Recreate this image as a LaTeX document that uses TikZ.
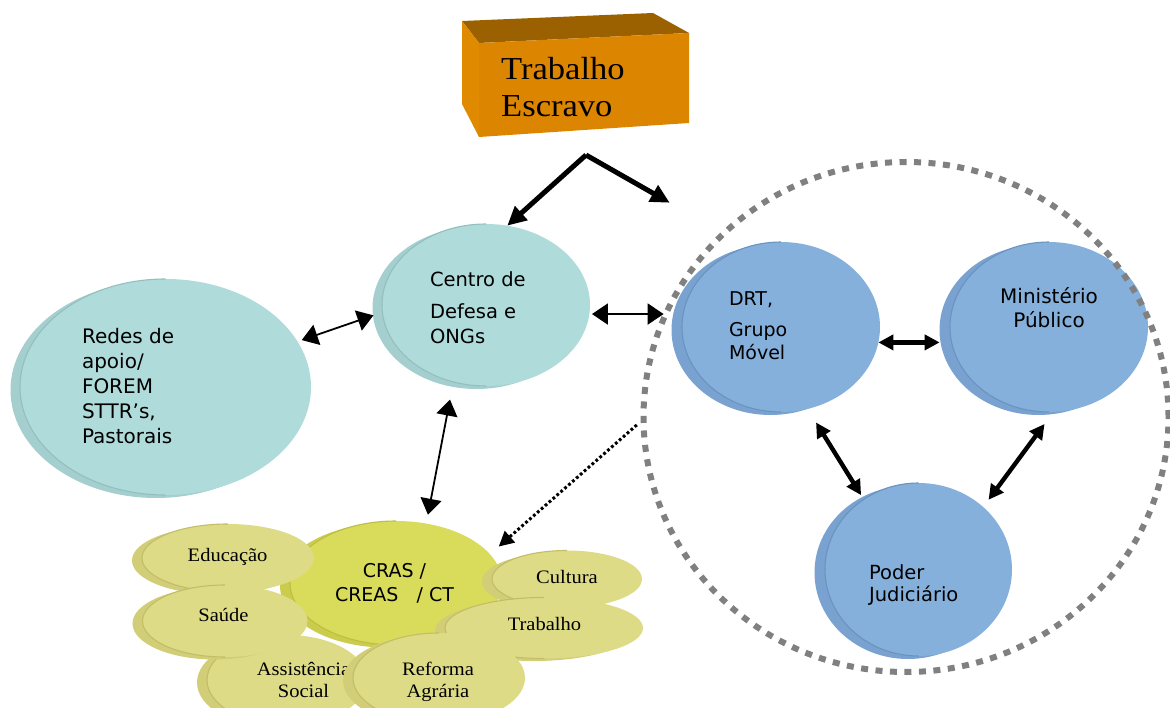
\documentclass[tikz,border=0pt]{standalone}
\usepackage{fontspec}
\setmainfont{Liberation Serif}[FakeStretch=1.08]
\newfontfamily\sansf{DejaVu Sans}
\usetikzlibrary{shapes.geometric,shadows,arrows.meta}
\definecolor{cyanF}{HTML}{AFDBDA}
\definecolor{cyanB}{HTML}{A5CFCF}
\definecolor{cyanL}{HTML}{93BFBF}
\definecolor{blueF}{HTML}{85B0DB}
\definecolor{blueB}{HTML}{7AA2D0}
\definecolor{blueL}{HTML}{6B93C0}
\definecolor{ylwF}{HTML}{DEDB87}
\definecolor{ylwB}{HTML}{D2CE78}
\definecolor{ylwL}{HTML}{C2BE68}
\definecolor{crasF}{HTML}{D9DB5A}
\definecolor{crasB}{HTML}{CBCC4B}
\definecolor{crasL}{HTML}{BDBE42}
\definecolor{boxF}{HTML}{DC8500}
\definecolor{boxT}{HTML}{9B6100}
\definecolor{boxS}{HTML}{E08A00}
\definecolor{ringG}{HTML}{808080}
\newcommand\lstack[1]{\vtop{\halign{##\hfil\cr#1\crcr}}}
\newcommand\cstack[1]{\vtop{\halign{\hfil##\hfil\cr#1\crcr}}}
\begin{document}
\begin{tikzpicture}[x=1pt,y=-1pt,
  disc/.style={ellipse,inner sep=0pt,outer sep=0pt},
  cyandisc/.style={disc,fill=cyanF,copy shadow={shadow xshift=-9.5pt,shadow yshift=-3pt,fill=cyanB,draw=none}},
  bluedisc/.style={disc,fill=blueF,copy shadow={shadow xshift=-10.5pt,shadow yshift=-3pt,fill=blueB,draw=none}},
  ylwdisc/.style={disc,fill=ylwF,copy shadow={shadow xshift=-10pt,shadow yshift=-2.5pt,fill=ylwB,draw=none}},
  crasdisc/.style={disc,fill=crasF,copy shadow={shadow xshift=-10pt,shadow yshift=-2.5pt,fill=crasB,draw=none}},
  rim/.style={line width=1.1pt},
  sanslbl/.style={font=\sansf\fontsize{19}{23.3}\selectfont,inner sep=0pt,outer sep=0pt},
  seriflbl/.style={font=\fontsize{19}{22}\selectfont,inner sep=0pt,outer sep=0pt},
  heavy/.style={line width=5pt,>={Triangle[length=19pt,width=18pt]}},
  medium/.style={line width=4.4pt,>={Triangle[length=15pt,width=15pt]}},
  light/.style={line width=1.8pt,>={Triangle[length=16pt,width=21pt]}},
  dotarrow/.style={line width=3pt,dash pattern=on 2.8pt off 2.4pt,>={Triangle[length=15pt,width=15pt]}}
]
\clip (0,0) rectangle (1170,708);
\fill[white] (0,0) rectangle (1170,708);

% Trabalho Escravo block
\fill[boxT] (462,21) -- (653,13) -- (689,33) -- (479,43) -- cycle;
\fill[boxS] (462,21) -- (479,43) -- (479,137) -- (462,104) -- cycle;
\fill[boxF] (479,43) -- (689,33) -- (689,123) -- (479,137) -- cycle;
\node[anchor=base west,inner sep=0pt,font=\fontsize{32}{37.4}\selectfont] (trab) at (501,79.3) {\lstack{Trabalho\cr Escravo}};
\coordinate (apex) at (586,155);

% left discs
\node[cyandisc,minimum width=291,minimum height=216] (redes) at (165.5,387) {};
\draw[rim,cyanL] (redes.north) arc[start angle=-90,end angle=-270,x radius=145.5,y radius=108];
\node[sanslbl,anchor=base west,font=\sansf\fontsize{20}{24.8}\selectfont] (redestxt) at (82,344) {\lstack{Redes de\cr apoio/\cr FOREM\cr STTR’s,\cr Pastorais}};

\node[cyandisc,minimum width=208,minimum height=162] (centro) at (486,305) {};
\draw[rim,cyanL] (centro.north) arc[start angle=-90,end angle=-270,x radius=104,y radius=81];
\node[sanslbl,anchor=base west,font=\sansf\fontsize{19.5}{25}\selectfont] (centrotxt) at (430,287) {\lstack{Centro de\cr\noalign{\vskip7pt}Defesa e\cr ONGs}};

% blue discs
\node[bluedisc,minimum width=198,minimum height=170] (drt) at (781,327) {};
\draw[rim,blueL] (drt.north) arc[start angle=-90,end angle=-270,x radius=99,y radius=85];
\node[sanslbl,anchor=base west] (drttxt) at (729,306) {\lstack{DRT,\cr\noalign{\vskip7.4pt}Grupo\cr Móvel}};

\node[bluedisc,minimum width=198,minimum height=170] (min) at (1049,327) {};
\draw[rim,blueL] (min.north) arc[start angle=-90,end angle=-270,x radius=99,y radius=85];
\node[sanslbl,anchor=base,font=\sansf\fontsize{20}{24}\selectfont] (mintxt) at (1049,304) {\cstack{Ministério\cr Público}};

\node[bluedisc,minimum width=187,minimum height=173] (poder) at (918.5,569.5) {};
\draw[rim,blueL] (poder.north) arc[start angle=-90,end angle=-270,x radius=93.5,y radius=86.5];
\node[sanslbl,anchor=base west,font=\sansf\fontsize{19.5}{22.7}\selectfont] (podertxt) at (869,579) {\lstack{Poder\cr Judiciário}};

% dotted ring
\node[ellipse,draw=ringG,line width=6pt,dash pattern=on 7pt off 7.5pt,inner sep=0pt,minimum width=525,minimum height=510] (group) at (906,417) {};

% bottom cluster
\node[crasdisc,minimum width=212,minimum height=124] (cras) at (396,583) {};
\draw[rim,crasL] (cras.north) arc[start angle=-90,end angle=-270,x radius=106,y radius=62];
\node[sanslbl,anchor=base,font=\sansf\fontsize{19}{24}\selectfont] (crastxt) at (394.5,577) {\cstack{CRAS /\cr CREAS\ \ \ / CT}};

\node[ylwdisc,minimum width=160,minimum height=90] (assist) at (287,680) {};
\draw[rim,ylwL] (assist.north) arc[start angle=-90,end angle=-270,x radius=80,y radius=45];
\node[seriflbl,anchor=base] (assisttxt) at (303.5,675) {\cstack{Assistência\cr Social}};

\node[ylwdisc,minimum width=172,minimum height=68] (educ) at (228,558) {};
\draw[rim,ylwL] (educ.north) arc[start angle=-90,end angle=-270,x radius=86,y radius=34];
\node[seriflbl,anchor=base] (eductxt) at (227.6,561) {Educação};

\node[ylwdisc,minimum width=165,minimum height=72] (saude) at (225,621) {};
\draw[rim,ylwL] (saude.north) arc[start angle=-90,end angle=-270,x radius=82.5,y radius=36];
\node[seriflbl,anchor=base] (saudetxt) at (223.5,621) {Saúde};

\node[ylwdisc,minimum width=150,minimum height=57] (cult) at (567,579) {};
\draw[rim,ylwL] (cult.north) arc[start angle=-90,end angle=-270,x radius=75,y radius=28.5];
\node[seriflbl,anchor=base] (culttxt) at (567,583) {Cultura};

\node[ylwdisc,minimum width=198,minimum height=61] (trabl) at (544,628) {};
\draw[rim,ylwL] (trabl.north) arc[start angle=-90,end angle=-270,x radius=99,y radius=30.5];
\node[seriflbl,anchor=base] (trabltxt) at (544.5,630) {Trabalho};

\node[ylwdisc,minimum width=172,minimum height=90] (ref) at (439,678) {};
\draw[rim,ylwL] (ref.north) arc[start angle=-90,end angle=-270,x radius=86,y radius=45];
\node[seriflbl,anchor=base] (reftxt) at (438,675.7) {\cstack{Reforma\cr Agrária}};

% connectors
\draw[heavy,->] (apex) -- (centro.75.5);
\draw[heavy,->,shorten >=59pt] (apex) -- (group.135.3);
\draw[light,<->,shorten <=4.5pt,shorten >=9.5pt] (redes.19) -- (centro.184.6);
\draw[light,<->,shorten <=2.6pt,shorten >=1pt] (centro.-5) -- (group.156.8 |- centro.-5);
\draw[light,<->,shorten <=18pt,shorten >=9pt] (centro.247.1) -- (cras.63.4);
\draw[dotarrow,->,shorten <=5pt,shorten >=11.7pt] (group.181) -- (cras.17.7);
\draw[medium,<->,shorten >=12pt] (drt.-9.35) -- (min.189.35);
\draw[medium,<->,shorten <=16pt,shorten >=5pt] (drt.-72.1) -- (poder.128.9);
\draw[medium,<->,shorten <=15pt,shorten >=9pt] (min.-87.3) -- (poder.44.6);
\end{tikzpicture}
\end{document}
